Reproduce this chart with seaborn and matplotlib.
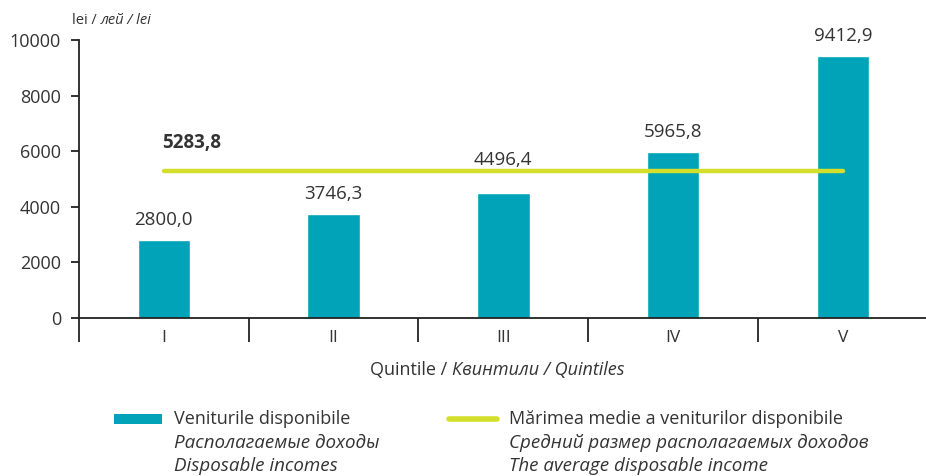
import matplotlib
matplotlib.use('Agg')
import matplotlib.pyplot as plt
import seaborn as sns
from matplotlib.offsetbox import TextArea, HPacker, AnnotationBbox
from matplotlib.patches import Rectangle
from matplotlib.lines import Line2D

# данные
quintiles = ['I', 'II', 'III', 'IV', 'V']
incomes = [2800.0, 3746.3, 4496.4, 5965.8, 9412.9]
mean_income = 5283.8

bar_color = '#00a3b8'
line_color = '#d4df2b'
text_color = '#333333'
axis_color = '#222222'

sns.set_style('white')
plt.rcParams['font.family'] = ['Open Sans', 'DejaVu Sans']

W, H = 926, 476
fig = plt.figure(figsize=(W / 100, H / 100), dpi=100)
ax = fig.add_axes([79 / W, 158 / H, 847 / W, 278 / H])

sns.barplot(x=quintiles, y=incomes, color=bar_color, saturation=1, width=0.31, ax=ax)

# линия среднего значения
ax.plot([0, len(quintiles) - 1], [mean_income, mean_income], color=line_color,
        lw=3.2, solid_capstyle='round', zorder=3)

ax.set_xlim(-0.5, 4.49)
ax.set_ylim(0, 10000)
ax.set_yticks(range(0, 10001, 2000))
ax.set_xlabel('')
ax.set_ylabel('')

sns.despine(ax=ax)
for side in ['left', 'bottom']:
    ax.spines[side].set_color(axis_color)
    ax.spines[side].set_linewidth(1.3)

ax.tick_params(axis='y', left=True, length=6, width=1.3, pad=7, labelsize=13,
               color=axis_color, labelcolor=text_color)
ax.set_xticks([-0.5, 0.5, 1.5, 2.5, 3.5], minor=True)
ax.tick_params(axis='x', which='minor', bottom=True, direction='out', length=17, width=1.3,
               color=axis_color)
ax.tick_params(axis='x', which='major', bottom=True, length=0, pad=9, labelsize=12.5,
               labelcolor=text_color)


def fmt(v):
    return f"{v:.1f}".replace('.', ',')


# подписи значений над столбцами
for i, v in enumerate(incomes):
    # III подпись поднимаем над линией среднего
    dy = 24 if quintiles[i] == 'III' else 14.5
    ax.annotate(fmt(v), (i, v), xytext=(0, dy), textcoords='offset points',
                ha='center', va='center', fontsize=13.5, color=text_color)

ax.annotate(fmt(mean_income), (0, mean_income), xytext=(-1.5, 20), textcoords='offset points',
            ha='left', va='center', fontsize=13.5, fontweight='bold', color=text_color)


def mixed_text(parts, size):
    boxes = [TextArea(t, textprops=dict(fontsize=size, color=text_color, style=s)) for t, s in parts]
    return HPacker(children=boxes, align='baseline', pad=0, sep=0)


unit = mixed_text([('lei / ', 'normal'), ('лей / lei', 'italic')], 10.5)
fig.add_artist(AnnotationBbox(unit, (72, H - 20), xycoords='figure pixels',
                              box_alignment=(0, 0.5), frameon=False, pad=0))

xlab = mixed_text([('Quintile / ', 'normal'), ('Квинтили / Quintiles', 'italic')], 13)
fig.add_artist(AnnotationBbox(xlab, (497, H - 370), xycoords='figure pixels',
                              box_alignment=(0.5, 0.5), frameon=False, pad=0))

# легенда
fig.add_artist(Rectangle((114 / W, 1 - 424 / H), 48 / W, 10 / H, transform=fig.transFigure,
                         color=bar_color, lw=0))
fig.add_artist(Line2D([449 / W, 497 / W], [1 - 419 / H] * 2, transform=fig.transFigure,
                      color=line_color, lw=4, solid_capstyle='round'))

legend_rows = [
    (174, ['Veniturile disponibile', 'Располагаемые доходы', 'Disposable incomes']),
    (509, ['Mărimea medie a veniturilor disponibile', 'Средний размер располагаемых доходов',
           'The average disposable income']),
]
for x0, lines in legend_rows:
    for k, (txt, y0) in enumerate(zip(lines, [419, 443, 466])):
        fig.text(x0 / W, 1 - y0 / H, txt, ha='left', va='center',
                 fontsize=13 if k == 0 else 13.5,
                 color=text_color, style='normal' if k == 0 else 'italic')

fig.savefig('out.png', dpi=100)
